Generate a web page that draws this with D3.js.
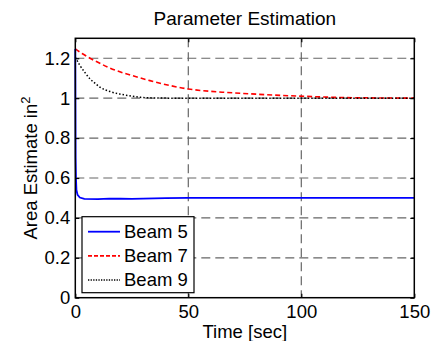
<!DOCTYPE html>
<html><head><meta charset="utf-8">
<script src="https://cdn.jsdelivr.net/npm/d3@7"></script>
<style>
html,body{margin:0;padding:0;background:#fff;}
text{font-family:"Liberation Sans",Arial,sans-serif;fill:#000;}
</style></head>
<body><svg id="c" width="434" height="341"></svg>
<script>
// ---- data ----
const xTicks = [0, 50, 100, 150];
const yTicks = [0, 0.2, 0.4, 0.6, 0.8, 1, 1.2];
const seriesNames = ["Beam 5", "Beam 7", "Beam 9"];

const beam5T = [0, 0.15, 0.3, 0.5, 1, 2, 4, 10, 15, 20, 25, 30, 40, 50, 150];
const beam5V = [1.247, 0.70, 0.60, 0.54, 0.515, 0.502, 0.495, 0.494, 0.497, 0.496, 0.495, 0.497, 0.499, 0.5, 0.5];

const beam7T = [0, 3, 6.5, 10, 15, 20, 24, 33, 42, 50, 60, 65, 80, 95, 107, 115, 125, 135, 150];
const beam7V = [1.247, 1.224, 1.200, 1.180, 1.152, 1.131, 1.117, 1.088, 1.063, 1.046, 1.034, 1.030, 1.020, 1.012, 1.007, 1.004, 1.002, 1.001, 1.0];

const beam9T = [0, 2, 4.3, 6.5, 8.7, 10.9, 15.4, 20, 24, 29, 35, 45, 150];
const beam9V = [1.205, 1.165, 1.128, 1.097, 1.075, 1.055, 1.033, 1.02, 1.012, 1.004, 1.001, 1.0, 1.0];

// ---- layout ----
const L = 75.3, R = 414.3, T = 38.3, B = 297.7;
const svg = d3.select("#c");
const x = d3.scaleLinear().domain([0, 150]).range([L, R]);
const y = d3.scaleLinear().domain([0, 1.3]).range([B, T]);

// grid
const g = svg.append("g");
g.selectAll(".gx").data(xTicks.filter(d => d > 0 && d < 150)).join("line")
  .attr("x1", d => x(d)).attr("x2", d => x(d)).attr("y1", T).attr("y2", B)
  .attr("stroke", "#666").attr("stroke-width", 1.2).attr("stroke-dasharray", "9,5");
g.selectAll(".gy").data(yTicks.filter(d => d > 0)).join("line")
  .attr("y1", d => y(d)).attr("y2", d => y(d)).attr("x1", L).attr("x2", R)
  .attr("stroke", "#666").attr("stroke-width", 1.2).attr("stroke-dasharray", "9,5");

// lines
const mk = (ts, vs) => ts.map((t, i) => [t, vs[i]]);
const lineLin = d3.line().x(d => x(d[0])).y(d => y(d[1]));
const lineSm = d3.line().x(d => x(d[0])).y(d => y(d[1])).curve(d3.curveMonotoneX);
svg.append("path").datum(mk(beam7T, beam7V)).attr("d", lineSm)
  .attr("fill", "none").attr("stroke", "#ff0000").attr("stroke-width", 1.6).attr("stroke-dasharray", "5,3");
svg.append("path").datum(mk(beam9T, beam9V)).attr("d", lineSm)
  .attr("fill", "none").attr("stroke", "#000").attr("stroke-width", 1.5).attr("stroke-dasharray", "1.5,2");
svg.append("path").datum(mk(beam5T, beam5V)).attr("d", lineLin)
  .attr("fill", "none").attr("stroke", "#0000ff").attr("stroke-width", 1.8);

// axes
const fs = "18.5px";
const ax = svg.append("g").attr("transform", `translate(0,${B})`)
  .call(d3.axisBottom(x).tickValues(xTicks).tickSizeInner(-4).tickSizeOuter(0).tickPadding(7).tickFormat(d3.format("d")));
const ay = svg.append("g").attr("transform", `translate(${L},0)`)
  .call(d3.axisLeft(y).tickValues(yTicks).tickSizeInner(-4).tickSizeOuter(0).tickPadding(5).tickFormat(d => String(+d.toFixed(1))));
const axt = svg.append("g").attr("transform", `translate(0,${T})`)
  .call(d3.axisTop(x).tickValues(xTicks).tickSizeInner(-4).tickSizeOuter(0).tickFormat(""));
const ayr = svg.append("g").attr("transform", `translate(${R},0)`)
  .call(d3.axisRight(y).tickValues(yTicks).tickSizeInner(-4).tickSizeOuter(0).tickFormat(""));
[ax, ay, axt, ayr].forEach(a => {
  a.select(".domain").remove();
  a.selectAll("line").attr("stroke", "#000").attr("stroke-width", 1.2);
  a.selectAll("text").style("font-size", fs).style("font-family", '"Liberation Sans",Arial,sans-serif').attr("fill", "#000");
});

// box
svg.append("rect").attr("x", L).attr("y", T).attr("width", R - L).attr("height", B - T)
  .attr("fill", "none").attr("stroke", "#000").attr("stroke-width", 1.5);

// title and labels
svg.append("text").attr("x", (L + R) / 2).attr("y", 24.5).attr("text-anchor", "middle")
  .style("font-size", "19px").text("Parameter Estimation");
svg.append("text").attr("x", (L + R) / 2).attr("y", 337.5).attr("text-anchor", "middle")
  .style("font-size", fs).text("Time [sec]");
const yl = svg.append("text").attr("transform", "translate(37,168) rotate(-90)")
  .attr("text-anchor", "middle").style("font-size", fs);
yl.append("tspan").text("Area Estimate in");
yl.append("tspan").attr("dy", "-0.55em").style("font-size", "13px").text("2");

// legend
const lg = svg.append("g");
lg.append("rect").attr("x", 82).attr("y", 216.7).attr("width", 112).attr("height", 76)
  .attr("fill", "#fff").attr("stroke", "#000").attr("stroke-width", 1.2);
const styles = [
  {c: "#0000ff", w: 1.8, d: null},
  {c: "#ff0000", w: 1.6, d: "4,2"},
  {c: "#000", w: 1.3, d: "1.3,1.3"}
];
const ly = d3.scalePoint().domain(seriesNames).range([231.7, 280]);
seriesNames.forEach((n, i) => {
  lg.append("line").attr("x1", 88).attr("x2", 120).attr("y1", ly(n)).attr("y2", ly(n))
    .attr("stroke", styles[i].c).attr("stroke-width", styles[i].w)
    .attr("stroke-dasharray", styles[i].d);
  lg.append("text").attr("x", 124).attr("y", ly(n)).attr("dy", "0.35em")
    .style("font-size", fs).text(n);
});
</script></body></html>
